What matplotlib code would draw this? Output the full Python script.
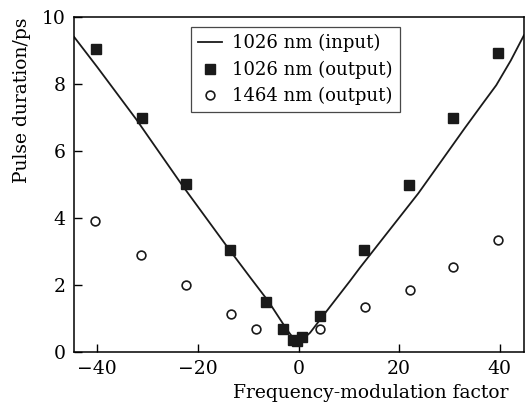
import numpy as np
import matplotlib
matplotlib.use('Agg')
from matplotlib import pyplot as plt

# input pulse (solid curve)
fm_line = [-44.6, -40.0, -32.2, -29.7, -23.2, -14.0, -9.6, -6.0, -2.35, -1.0, 0.0,
           1.0, 2.3, 5.3, 10.2, 12.2, 17.0, 23.8, 28.5, 33.0, 36.5, 39.3, 42.2, 44.8]
dur_line = [9.40, 8.50, 6.93, 6.39, 4.99, 3.10, 2.22, 1.51, 0.67, 0.40, 0.32,
            0.40, 0.57, 1.16, 2.11, 2.51, 3.43, 4.73, 5.72, 6.67, 7.39, 7.96, 8.70, 9.45]

# 1026 nm output
fm_1026 = [-40.3, -31.2, -22.3, -13.6, -6.5, -3.0, -1.0, -0.3, 0.7, 4.3, 13.1, 22.0, 30.8, 39.7]
dur_1026 = [9.04, 6.97, 5.00, 3.03, 1.48, 0.67, 0.35, 0.32, 0.45, 1.06, 3.03, 4.98, 6.97, 8.93]

# 1464 nm output
fm_1464 = [-40.4, -31.4, -22.4, -13.5, -8.4, 4.3, 13.2, 22.1, 30.8, 39.7]
dur_1464 = [3.90, 2.90, 1.99, 1.14, 0.69, 0.69, 1.33, 1.86, 2.54, 3.33]

xticks = [-40, -20, 0, 20, 40]
yticks = [0, 2, 4, 6, 8, 10]

plt.rcParams['font.family'] = ['DejaVu Serif']
plt.rcParams['mathtext.fontset'] = 'dejavuserif'

fig = plt.figure(figsize=(5.26, 4.03), dpi=100)
ax = fig.add_axes([0.141, 0.127, 0.855, 0.831])

ax.plot(fm_line, dur_line, color='#1a1a1a', lw=1.3, label='1026 nm (input)')
ax.plot(fm_1026, dur_1026, ls='none', marker='s', ms=7, color='#1a1a1a',
        label='1026 nm (output)')
ax.plot(fm_1464, dur_1464, ls='none', marker='o', ms=6.3, mfc='white',
        mec='#1a1a1a', mew=1.2, label='1464 nm (output)')

ax.set_xlim(-44.6, 44.8)
ax.set_ylim(0, 10)
ax.set_xticks(xticks)
ax.set_yticks(yticks)
ax.tick_params(direction='in', length=6, width=1, labelsize=13.5, pad=6)
for s in ax.spines.values():
    s.set_linewidth(1.1)

ax.set_xlabel('Frequency-modulation factor', fontsize=13.5)
ax.xaxis.set_label_coords(0.66, -0.095)
ax.set_ylabel('Pulse duration/ps', fontsize=13.5)
ax.yaxis.set_label_coords(-0.095, 0.75)

leg = ax.legend(loc='upper left', bbox_to_anchor=(0.259, 0.97), fontsize=13,
                frameon=True, fancybox=False, edgecolor='#1a1a1a',
                borderaxespad=0, handlelength=1.35, handletextpad=0.55,
                borderpad=0.4, labelspacing=0.45)
leg.get_frame().set_linewidth(0.9)

fig.savefig('out.png', dpi=100)
